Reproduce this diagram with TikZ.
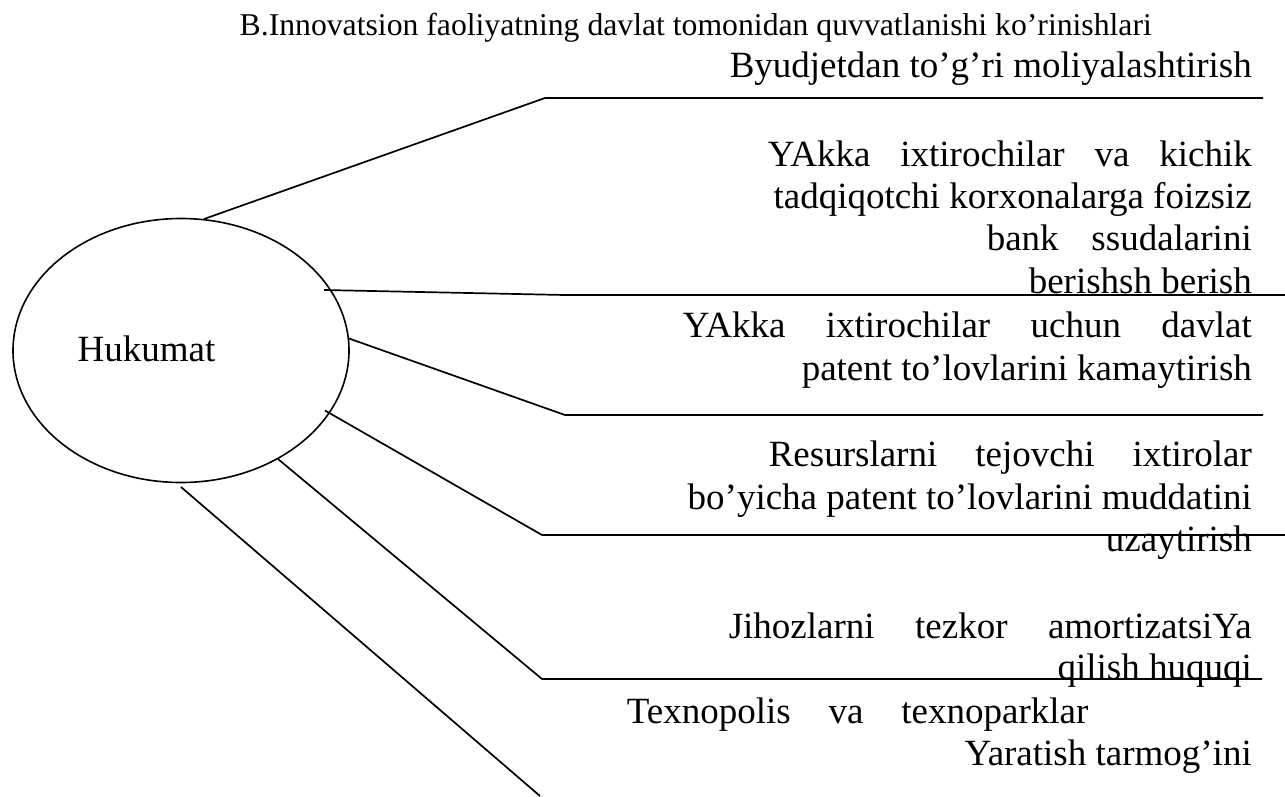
\documentclass[tikz,border=0pt]{standalone}
\usepackage{fontspec}
\setmainfont{Liberation Serif}
\usetikzlibrary{shapes.geometric}
\begin{document}
\begin{tikzpicture}[x=1pt,y=-1pt,
  conn/.style={line width=1.7pt, line join=miter},
  lbl/.style={anchor=base east, inner sep=0pt, font=\fontsize{37}{42}\selectfont},
  lblw/.style={anchor=base west, inner sep=0pt, font=\fontsize{37}{42}\selectfont},
]
\useasboundingbox (0,0) rectangle (1285,796);
% central ellipse
\node[draw, ellipse, line width=1.6pt, minimum width=336pt, minimum height=264pt, inner sep=0pt] (huk) at (181,350.5) {};
\node[lblw] (hukt) at (77.5,361) {Hukumat};
% title
\node[anchor=base east, inner sep=0pt, font=\fontsize{31.7}{38}\selectfont] (title) at (1152,35) {B.Innovatsion faoliyatning davlat tomonidan quvvatlanishi ko’rinishlari};
% labels
\node[lbl] (t1) at (1252,77) {Byudjetdan to’g’ri moliyalashtirish};
\node[lbl] (t2a) at (1252,166) {\makebox[484pt][s]{YAkka ixtirochilar va kichik}};
\node[lbl] (t2b) at (1252,208) {tadqiqotchi korxonalarga foizsiz};
\node[lbl] (t2c) at (1252,250.5) {\makebox[265pt][s]{bank ssudalarini}};
\node[lbl] (t2d) at (1252,293) {berishsh berish};
\node[lbl] (t3a) at (1252,337.5) {\makebox[569pt][s]{YAkka ixtirochilar uchun davlat}};
\node[lbl] (t3b) at (1252,380) {patent to’lovlarini kamaytirish};
\node[lbl] (t4a) at (1252,466) {\makebox[483pt][s]{Resurslarni tejovchi ixtirolar}};
\node[lbl] (t4b) at (1252,509) {bo’yicha patent to’lovlarini muddatini};
\node[lbl] (t4c) at (1252,551) {uzaytirish};
\node[lbl] (t5a) at (1252,638) {\makebox[523pt][s]{Jihozlarni tezkor amortizatsiYa}};
\node[lbl] (t5b) at (1252,679.5) {qilish huquqi};
\node[lblw] (t6a) at (626.7,723.5) {\makebox[461.5pt][s]{Texnopolis va texnoparklar}};
\node[lbl] (t6b) at (1252,765.5) {Yaratish tarmog’ini};
% connector coordinates
\coordinate (s1) at (204,219);  \coordinate (b1) at (545,98);  \coordinate (e1) at (1263,98);
\coordinate (s2) at (324,290);  \coordinate (b2) at (565,295); \coordinate (e2) at (1285,295);
\coordinate (s3) at (349,338.5);\coordinate (b3) at (565,415); \coordinate (e3) at (1263,415);
\coordinate (s4) at (325,410.5);\coordinate (b4) at (542,535); \coordinate (e4) at (1285,535);
\coordinate (s5) at (278,459);  \coordinate (b5) at (542,679); \coordinate (e5) at (1262,679);
\coordinate (s6) at (181,487);  \coordinate (e6) at (540,796);
\draw[conn] (s1) -- (b1) -- (e1);
\draw[conn] (s2) -- (b2) -- (e2);
\draw[conn] (s3) -- (b3) -- (e3);
\draw[conn] (s4) -- (b4) -- (e4);
\draw[conn] (s5) -- (b5) -- (e5);
\draw[conn] (s6) -- (e6);
\end{tikzpicture}
\end{document}
